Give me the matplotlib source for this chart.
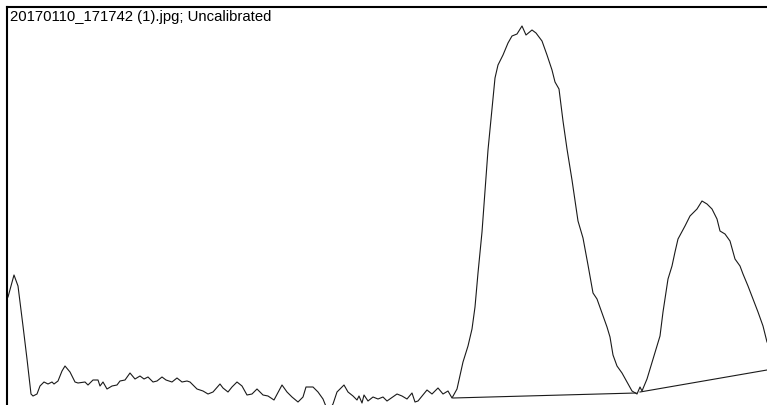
"""Plot profile (ImageJ style) - one line trace with two baselines."""
import matplotlib; matplotlib.use('Agg')
import matplotlib.pyplot as plt

plt.rcParams.update({
    'font.family': ['Liberation Sans', 'DejaVu Sans'],
    'font.size': 10.7,
})

# profile trace: position along line (px) and grey value (height above bottom)
pos = [8, 14, 18, 23, 27, 31, 33, 37, 40, 44, 48, 52, 54, 58, 62, 65, 70, 75, 78,
       85, 88, 93, 98, 100, 103, 107, 112, 117, 120, 125, 130, 135, 140, 144, 148,
       153, 157, 162, 166, 172, 177, 182, 187, 190, 197, 203, 208, 213, 220, 223,
       228, 232, 237, 242, 247, 252, 257, 263, 268, 274, 282, 287, 292, 298, 303,
       306, 313, 318, 323, 327, 330, 333, 337, 344, 348, 353, 357, 359, 362, 364,
       368, 373, 378, 383, 387, 397, 402, 407, 412, 415, 418, 427, 432, 438, 443,
       448, 452, 457, 463, 468, 472, 475, 478, 482, 485, 488, 492, 495, 498, 503,
       508, 512, 517, 522, 526, 532, 536, 542, 547, 552, 555, 559, 563, 567, 572,
       578, 583, 588, 593, 597, 602, 607, 610, 613, 617, 622, 627, 632, 637, 640,
       642, 647, 653, 660, 663, 668, 672, 675, 678, 685, 690, 697, 702, 707, 712,
       717, 720, 725, 730, 735, 740, 743, 748, 753, 758, 763, 767]
value = [108, 130, 119, 79, 46, 11, 9, 11, 19, 23, 21, 23, 21, 24, 34, 39, 33, 23, 22,
         23, 20, 25, 25, 19, 23, 16, 19, 20, 24, 25, 32, 26, 29, 26, 28,
         23, 24, 28, 25, 23, 27, 23, 24, 23, 16, 14, 11, 13, 21, 17,
         13, 18, 23, 19, 10, 11, 16, 10, 9, 5, 20, 13, 8, 3, 8,
         18, 18, 13, 6, -4, -4, 1, 13, 20, 13, 9, 5, 9, 2, 10,
         4, 8, 6, 8, 4, 11, 9, 6, 12, 3, 4, 15, 11, 17, 11,
         14, 7, 16, 43, 59, 76, 98, 132, 173, 214, 255, 296, 327, 340, 350,
         362, 369, 371, 379, 370, 375, 372, 364, 350, 335, 323, 316, 284, 256, 225,
         184, 167, 140, 112, 106, 92, 78, 68, 50, 39, 32, 23, 14, 11, 18,
         14, 26, 46, 69, 93, 126, 139, 153, 166, 179, 189, 196, 204, 201, 196,
         186, 174, 171, 164, 146, 139, 131, 119, 106, 93, 79, 63]

# background baselines drawn under the two peaks
base1_x = [453, 636]
base1_y = [7, 12]
base2_x = [640, 767]
base2_y = [13, 35]

W, H = 767, 406
fig = plt.figure(figsize=(W / 100, H / 100), dpi=100)
fig.patch.set_facecolor('white')
ax = fig.add_axes([7 / W, 0, 1 - 7 / W, (H - 8) / H])
ax.set_xlim(7, W)
ax.set_ylim(0, H - 8)
ax.set_xticks([]); ax.set_yticks([])
for s in ('right', 'bottom'):
    ax.spines[s].set_visible(False)
for s in ('left', 'top'):
    ax.spines[s].set_linewidth(1.5)

ax.plot(pos, value, color='#1a1a1a', lw=0.8)
ax.plot(base1_x, base1_y, color='#1a1a1a', lw=0.8)
ax.plot(base2_x, base2_y, color='#1a1a1a', lw=0.8)

fig.text(10 / W, 1 - 10 / H, '20170110_171742 (1).jpg; Uncalibrated',
         ha='left', va='top', color='black')

fig.savefig('out.png', dpi=100)
plt.close()
